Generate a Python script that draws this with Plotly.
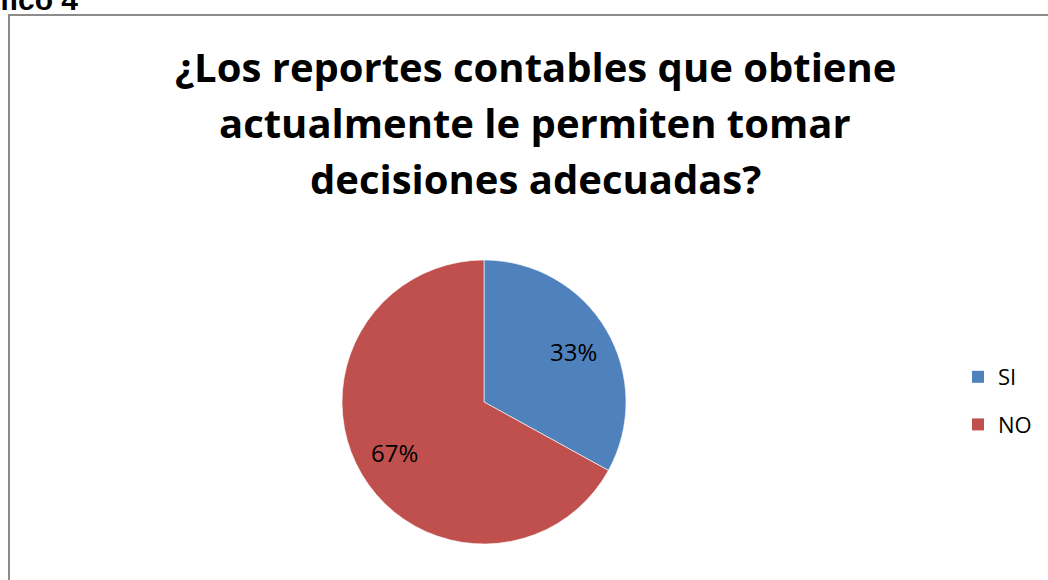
import math
import plotly.graph_objects as go

W, H = 1048, 580
labels = ["SI", "NO"]
values = [33, 67]
colors = ["#4F81BD", "#C0504D"]
title_lines = ["¿Los reportes contables que obtiene",
               "actualmente le permiten tomar",
               "decisiones adecuadas?"]

def px(x):
    return x / W

def py(y):
    return 1 - y / H

cx, cy, r = 484, 402, 142

fig = go.Figure(go.Pie(
    labels=labels, values=values, sort=False, direction="clockwise", rotation=0,
    marker=dict(colors=colors, line=dict(color="rgba(255,255,255,0.6)", width=1)),
    textinfo="none", showlegend=False,
    domain=dict(x=[px(cx - r), px(cx + r)], y=[py(cy + r), py(cy - r)]),
    hoverinfo="none",
))

# legend entries (one group per category so the gap between them can be set)
for lab, col in zip(labels, colors):
    fig.add_trace(go.Scatter(x=[None], y=[None], mode="markers", name=lab,
                             legendgroup=lab,
                             marker=dict(symbol="square", size=12, color=col),
                             hoverinfo="none"))

# percentage labels placed along each slice's mid-angle
total = sum(values)
cum = 0
for v in values:
    mid = (cum + v / 2) / total * 2 * math.pi
    cum += v
    lx = cx + 0.70 * r * 1.05 * math.sin(mid)
    ly = cy - 0.70 * r * math.cos(mid)
    fig.add_annotation(text=f"{round(100 * v / total)}%", x=px(lx), y=py(ly),
                       xref="paper", yref="paper", showarrow=False,
                       xanchor="center", yanchor="middle",
                       font=dict(family="Open Sans, sans-serif", size=24, color="#000000"))

fig.update_layout(
    width=W, height=H, margin=dict(l=0, r=0, t=0, b=0),
    paper_bgcolor="white", plot_bgcolor="white",
    showlegend=True,
    xaxis=dict(visible=False), yaxis=dict(visible=False),
    legend=dict(x=px(958), y=py(356), xanchor="left", yanchor="top",
                font=dict(family="Open Sans, sans-serif", size=22, color="#000000"),
                tracegroupgap=16, itemwidth=30, bgcolor="rgba(0,0,0,0)",
                itemclick=False, itemdoubleclick=False),
)

for i, line in enumerate(title_lines):
    fig.add_annotation(text="<b>" + line + "</b>", x=px(535), y=py(67 + 55.5 * i),
                       xref="paper", yref="paper", showarrow=False,
                       xanchor="center", yanchor="middle",
                       font=dict(family="Open Sans, sans-serif", size=40, color="#000000"))

fig.add_annotation(text="<b>Gráfico 4</b>", x=px(80), y=py(-1), xref="paper", yref="paper",
                   showarrow=False, xanchor="right", yanchor="middle",
                   font=dict(family="Liberation Sans, Arial, sans-serif", size=30, color="#000000"))

fig.add_shape(type="rect", xref="paper", yref="paper",
              x0=px(9), x1=px(1060), y0=py(15), y1=py(600),
              line=dict(color="#8C8C8C", width=2), layer="above")

fig.write_html("out.html", config={"displayModeBar": False},
               post_script="document.body.style.margin='0';document.body.style.overflow='hidden';")
